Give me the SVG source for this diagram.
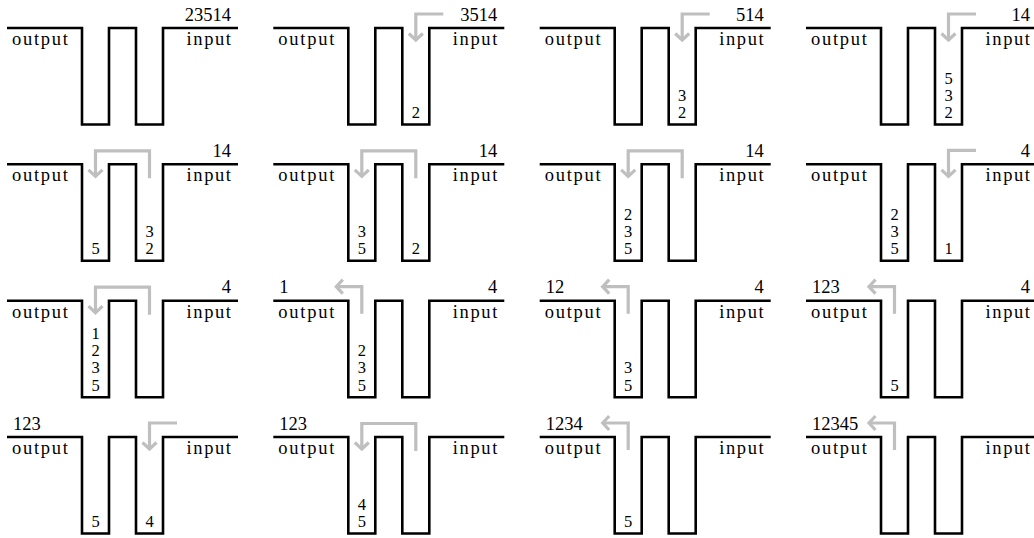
<svg xmlns="http://www.w3.org/2000/svg" xmlns:xlink="http://www.w3.org/1999/xlink" width="1034" height="538" viewBox="0 0 1034 538" font-family="'Liberation Serif', 'Times New Roman', Times, 'DejaVu Serif', serif">
<style>
text{font-family:'Liberation Serif','Times New Roman',Times,'DejaVu Serif',serif;font-size:18.5px;fill:#000}
.track{fill:none;stroke:#000;stroke-width:2.6;stroke-linejoin:miter;stroke-linecap:butt}
.e{text-anchor:end}
.m{text-anchor:middle;font-size:16.5px}
.arr{fill:none;stroke:#bfbfbf;stroke-width:3.2;stroke-linejoin:miter;marker-end:url(#ah)}
</style>
<defs>
<marker id="ah" viewBox="-10 -10 20 20" markerWidth="20" markerHeight="20" markerUnits="userSpaceOnUse" orient="auto" refX="0" refY="0">
<path d="M-6.5,-7 L0,0 L-6.5,7" fill="none" stroke="#bfbfbf" stroke-width="3.2"/>
</marker>
<path id="trk" class="track" d="M0,0 H75 V96.5 H102 V0 H129 V96.5 H156 V0 H231"/>
<g id="lbl">
<text x="5" y="17" textLength="56" lengthAdjust="spacing">output</text>
<text x="179.5" y="17" textLength="44.5" lengthAdjust="spacing">input</text>
</g>
</defs>

<g id="p1" transform="translate(7,28)"><use xlink:href="#trk"/><use xlink:href="#lbl"/>
<text class="e" x="224" y="-7.5">23514</text></g>

<g id="p2" transform="translate(273.3,28)"><use xlink:href="#trk"/><use xlink:href="#lbl"/>
<text class="e" x="224" y="-7.5">3514</text>
<text class="m" x="142.5" y="90">2</text></g>

<g id="p3" transform="translate(539.7,28)"><use xlink:href="#trk"/><use xlink:href="#lbl"/>
<text class="e" x="224" y="-7.5">514</text>
<text class="m" x="142.5" y="72.8">3</text><text class="m" x="142.5" y="90">2</text></g>

<g id="p4" transform="translate(806,28)"><use xlink:href="#trk"/><use xlink:href="#lbl"/>
<text class="e" x="224" y="-7.5">14</text>
<text class="m" x="142.5" y="55.6">5</text><text class="m" x="142.5" y="72.8">3</text><text class="m" x="142.5" y="90">2</text></g>

<g id="p5" transform="translate(7,164.3)"><use xlink:href="#trk"/><use xlink:href="#lbl"/>
<text class="e" x="224" y="-7.5">14</text>
<text class="m" x="88.5" y="90">5</text>
<text class="m" x="142.5" y="72.8">3</text><text class="m" x="142.5" y="90">2</text></g>

<g id="p6" transform="translate(273.3,164.3)"><use xlink:href="#trk"/><use xlink:href="#lbl"/>
<text class="e" x="224" y="-7.5">14</text>
<text class="m" x="88.5" y="72.8">3</text><text class="m" x="88.5" y="90">5</text>
<text class="m" x="142.5" y="90">2</text></g>

<g id="p7" transform="translate(539.7,164.3)"><use xlink:href="#trk"/><use xlink:href="#lbl"/>
<text class="e" x="224" y="-7.5">14</text>
<text class="m" x="88.5" y="55.6">2</text><text class="m" x="88.5" y="72.8">3</text><text class="m" x="88.5" y="90">5</text></g>

<g id="p8" transform="translate(806,164.3)"><use xlink:href="#trk"/><use xlink:href="#lbl"/>
<text class="e" x="224" y="-7.5">4</text>
<text class="m" x="88.5" y="55.6">2</text><text class="m" x="88.5" y="72.8">3</text><text class="m" x="88.5" y="90">5</text>
<text class="m" x="142.5" y="90">1</text></g>

<g id="p9" transform="translate(7,300.7)"><use xlink:href="#trk"/><use xlink:href="#lbl"/>
<text class="e" x="224" y="-7.5">4</text>
<text class="m" x="88.5" y="38.4">1</text><text class="m" x="88.5" y="55.6">2</text><text class="m" x="88.5" y="72.8">3</text><text class="m" x="88.5" y="90">5</text></g>

<g id="p10" transform="translate(273.3,300.7)"><use xlink:href="#trk"/><use xlink:href="#lbl"/>
<text x="6" y="-7.5">1</text><text class="e" x="224" y="-7.5">4</text>
<text class="m" x="88.5" y="55.6">2</text><text class="m" x="88.5" y="72.8">3</text><text class="m" x="88.5" y="90">5</text></g>

<g id="p11" transform="translate(539.7,300.7)"><use xlink:href="#trk"/><use xlink:href="#lbl"/>
<text x="6" y="-7.5">12</text><text class="e" x="224" y="-7.5">4</text>
<text class="m" x="88.5" y="72.8">3</text><text class="m" x="88.5" y="90">5</text></g>

<g id="p12" transform="translate(806,300.7)"><use xlink:href="#trk"/><use xlink:href="#lbl"/>
<text x="6" y="-7.5">123</text><text class="e" x="224" y="-7.5">4</text>
<text class="m" x="88.5" y="90">5</text></g>

<g id="p13" transform="translate(7,437)"><use xlink:href="#trk"/><use xlink:href="#lbl"/>
<text x="6" y="-7.5">123</text>
<text class="m" x="88.5" y="90">5</text>
<text class="m" x="142.5" y="90">4</text></g>

<g id="p14" transform="translate(273.3,437)"><use xlink:href="#trk"/><use xlink:href="#lbl"/>
<text x="6" y="-7.5">123</text>
<text class="m" x="88.5" y="72.8">4</text><text class="m" x="88.5" y="90">5</text></g>

<g id="p15" transform="translate(539.7,437)"><use xlink:href="#trk"/><use xlink:href="#lbl"/>
<text x="6" y="-7.5">1234</text>
<text class="m" x="88.5" y="90">5</text></g>

<g id="p16" transform="translate(806,437)"><use xlink:href="#trk"/><use xlink:href="#lbl"/>
<text x="6" y="-7.5">12345</text></g>

<g id="arrows">
<path class="arr" transform="translate(273.3,28)" d="M170,-14 H142.5 V12"/>
<path class="arr" transform="translate(539.7,28)" d="M170,-14 H142.5 V12"/>
<path class="arr" transform="translate(806,28)" d="M170,-14 H142.5 V12"/>
<path class="arr" transform="translate(7,164.3)" d="M142.5,14 V-13.5 H88.5 V12"/>
<path class="arr" transform="translate(273.3,164.3)" d="M142.5,14 V-13.5 H88.5 V12"/>
<path class="arr" transform="translate(539.7,164.3)" d="M142.5,14 V-13.5 H88.5 V12"/>
<path class="arr" transform="translate(806,164.3)" d="M170,-14 H142.5 V12"/>
<path class="arr" transform="translate(7,300.7)" d="M142.5,14 V-13.5 H88.5 V12"/>
<path class="arr" transform="translate(273.3,300.7)" d="M88.5,13 V-14 H63"/>
<path class="arr" transform="translate(539.7,300.7)" d="M88.5,13 V-14 H63"/>
<path class="arr" transform="translate(806,300.7)" d="M88.5,13 V-14 H63"/>
<path class="arr" transform="translate(7,437)" d="M170,-14 H142.5 V12"/>
<path class="arr" transform="translate(273.3,437)" d="M142.5,14 V-13.5 H88.5 V12"/>
<path class="arr" transform="translate(539.7,437)" d="M88.5,13 V-14 H63"/>
<path class="arr" transform="translate(806,437)" d="M88.5,13 V-14 H63"/>
</g>
</svg>
